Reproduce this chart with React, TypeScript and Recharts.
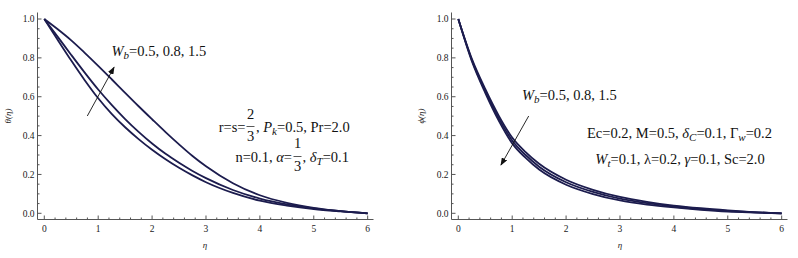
import React from 'react';
import { LineChart, Line, XAxis, YAxis } from 'recharts';

// ---------- data ----------
const etaTheta = [0, 0.25, 0.5, 0.75, 1, 1.25, 1.5, 1.75, 2, 2.25, 2.5, 2.75, 3, 3.5, 4, 4.5, 5, 5.5, 6];
const thetaWb05 = [1.0, 0.892, 0.786, 0.685, 0.592, 0.512, 0.443, 0.382, 0.327, 0.278, 0.234, 0.195, 0.16, 0.105, 0.065, 0.04, 0.022, 0.01, 0];
const thetaWb08 = [1.0, 0.908, 0.815, 0.724, 0.637, 0.558, 0.485, 0.419, 0.359, 0.306, 0.26, 0.218, 0.181, 0.12, 0.076, 0.046, 0.025, 0.011, 0];
const thetaWb15 = [1.0, 0.947, 0.89, 0.826, 0.759, 0.69, 0.62, 0.551, 0.484, 0.418, 0.355, 0.295, 0.242, 0.155, 0.093, 0.054, 0.028, 0.011, 0];

const etaPhi = [0, 0.25, 0.5, 0.75, 1, 1.25, 1.5, 2, 2.5, 3, 3.5, 4, 4.5, 5, 5.5, 6];
const phiWb05 = [1.0, 0.796, 0.64, 0.503, 0.39, 0.315, 0.255, 0.173, 0.121, 0.084, 0.059, 0.04, 0.026, 0.015, 0.006, 0];
const phiWb08 = [1.0, 0.79, 0.63, 0.49, 0.375, 0.3, 0.24, 0.16, 0.11, 0.075, 0.052, 0.035, 0.022, 0.012, 0.005, 0];
const phiWb15 = [1.0, 0.784, 0.62, 0.477, 0.36, 0.285, 0.225, 0.147, 0.099, 0.066, 0.045, 0.03, 0.018, 0.009, 0.004, 0];

const xMajorTicks = [0, 1, 2, 3, 4, 5, 6];
const xTickLabels = ['0', '1', '2', '3', '4', '5', '6'];
const yMajorTicks = [0, 0.2, 0.4, 0.6, 0.8, 1.0];
const yTickLabels = ['0.0', '0.2', '0.4', '0.6', '0.8', '1.0'];

const xAllTicks: number[] = [];
for (let i = 0; i <= 30; i++) xAllTicks.push(Math.round(i * 20) / 100);
const yAllTicks: number[] = [];
for (let i = 0; i <= 20; i++) yAllTicks.push(Math.round(i * 5) / 100);

const thetaData = etaTheta.map((eta, i) => ({ eta, a: thetaWb05[i], b: thetaWb08[i], c: thetaWb15[i] }));
const phiData = etaPhi.map((eta, i) => ({ eta, a: phiWb05[i], b: phiWb08[i], c: phiWb15[i] }));

// ---------- styles ----------
const FRAME = '#555';
const CURVE = '#1c1c4e';
const SERIF = '"Liberation Serif", "Times New Roman", serif';
const X_DOMAIN: [number, number] = [-0.126, 6.108];
const Y_DOMAIN: [number, number] = [-0.0319, 1.0335];
const FS = 14.5;
const SUB = 11;

const majorIdx = (v: number, majors: number[]) => majors.findIndex((m) => Math.abs(m - v) < 1e-6);

const BottomTick = (props: any) => {
  const { x, y, payload } = props;
  const idx = majorIdx(payload.value, xMajorTicks);
  const major = idx >= 0;
  return (
    <g>
      <line x1={x} x2={x} y1={y} y2={y - (major ? 4 : 2)} stroke={FRAME} strokeWidth={1} />
      {major && (
        <text x={x} y={y + 12} textAnchor="middle" fontSize={9.5} fontFamily={SERIF} fill="#1a1a1a">
          {xTickLabels[idx]}
        </text>
      )}
    </g>
  );
};

const TopTick = (props: any) => {
  const { x, y, payload } = props;
  const major = majorIdx(payload.value, xMajorTicks) >= 0;
  return <line x1={x} x2={x} y1={y} y2={y + (major ? 4 : 2)} stroke={FRAME} strokeWidth={1} />;
};

const LeftTick = (props: any) => {
  const { x, y, payload } = props;
  const idx = majorIdx(payload.value, yMajorTicks);
  const major = idx >= 0;
  return (
    <g>
      <line x1={x} x2={x + (major ? 4 : 2)} y1={y} y2={y} stroke={FRAME} strokeWidth={1} />
      {major && (
        <text x={x - 3} y={y + 3.2} textAnchor="end" fontSize={9.5} fontFamily={SERIF} fill="#1a1a1a">
          {yTickLabels[idx]}
        </text>
      )}
    </g>
  );
};

const RightTick = (props: any) => {
  const { x, y, payload } = props;
  const major = majorIdx(payload.value, yMajorTicks) >= 0;
  return <line x1={x} x2={x - (major ? 4 : 2)} y1={y} y2={y} stroke={FRAME} strokeWidth={1} />;
};

type PanelProps = { data: any[]; width: number; yAxisWidth: number; marginRight: number; left: number };

const Panel = ({ data, width, yAxisWidth, marginRight, left }: PanelProps) => (
  <div style={{ position: 'absolute', left, top: 0 }}>
    <LineChart width={width} height={258} data={data} margin={{ top: 12.5, right: marginRight, bottom: 0.5, left: 0 }}>
      <XAxis
        dataKey="eta"
        type="number"
        domain={X_DOMAIN}
        allowDataOverflow
        ticks={xAllTicks}
        interval={0}
        tickSize={0}
        tickMargin={0}
        tickLine={false}
        height={38}
        axisLine={{ stroke: FRAME, strokeWidth: 1 }}
        tick={BottomTick}
      />
      <XAxis
        xAxisId="top"
        orientation="top"
        dataKey="eta"
        type="number"
        domain={X_DOMAIN}
        allowDataOverflow
        ticks={xAllTicks}
        interval={0}
        tickSize={0}
        tickMargin={0}
        tickLine={false}
        height={0}
        axisLine={{ stroke: FRAME, strokeWidth: 1 }}
        tick={TopTick}
      />
      <YAxis
        type="number"
        domain={Y_DOMAIN}
        allowDataOverflow
        ticks={yAllTicks}
        interval={0}
        tickSize={0}
        tickMargin={0}
        tickLine={false}
        width={yAxisWidth}
        axisLine={{ stroke: FRAME, strokeWidth: 1 }}
        tick={LeftTick}
      />
      <YAxis
        yAxisId="right"
        orientation="right"
        type="number"
        domain={Y_DOMAIN}
        allowDataOverflow
        ticks={yAllTicks}
        interval={0}
        tickSize={0}
        tickMargin={0}
        tickLine={false}
        width={0}
        axisLine={{ stroke: FRAME, strokeWidth: 1 }}
        tick={RightTick}
      />
      <Line dataKey="a" type="monotone" stroke={CURVE} strokeWidth={1.8} dot={false} isAnimationActive={false} />
      <Line dataKey="b" type="monotone" stroke={CURVE} strokeWidth={1.8} dot={false} isAnimationActive={false} />
      <Line dataKey="c" type="monotone" stroke={CURVE} strokeWidth={1.8} dot={false} isAnimationActive={false} />
    </LineChart>
  </div>
);

const T = (p: any) => <text fontFamily={SERIF} fontSize={FS} fill="#111" {...p} />;

const Overlay = () => (
  <svg width={798} height={258} style={{ position: 'absolute', left: 0, top: 0, pointerEvents: 'none' }}>
    <defs>
      <marker id="ah" markerWidth="8" markerHeight="6" refX="7" refY="3" orient="auto" markerUnits="userSpaceOnUse">
        <path d="M0,0 L8,3 L0,6 z" fill="#111" />
      </marker>
    </defs>
    {/* axis titles */}
    <text x={0} y={0} transform="translate(11,116) rotate(-90)" textAnchor="middle" fontFamily={SERIF} fontSize={9} fontStyle="italic" fill="#222">
      θ(η)
    </text>
    <text x={0} y={0} transform="translate(424,116) rotate(-90)" textAnchor="middle" fontFamily={SERIF} fontSize={9} fontStyle="italic" fill="#222">
      ϕ(η)
    </text>
    <text x={205} y={248} textAnchor="middle" fontFamily={SERIF} fontSize={9} fontStyle="italic" fill="#222">η</text>
    <text x={620} y={248} textAnchor="middle" fontFamily={SERIF} fontSize={9} fontStyle="italic" fill="#222">η</text>

    {/* left panel annotations */}
    <T x={111.5} y={56}>
      <tspan fontStyle="italic">W</tspan>
      <tspan fontStyle="italic" fontSize={SUB} dy={3}>b</tspan>
      <tspan dy={-3}>=0.5, 0.8, 1.5</tspan>
    </T>
    <line x1={87.3} y1={116} x2={114} y2={67.3} stroke="#111" strokeWidth={0.9} markerEnd="url(#ah)" />

    <T x={245.5} y={131.5} textAnchor="end">r=s=</T>
    <T x={250.5} y={119} textAnchor="middle">2</T>
    <line x1={246.5} x2={254.5} y1={126.5} y2={126.5} stroke="#111" strokeWidth={0.7} />
    <T x={250.5} y={141} textAnchor="middle">3</T>
    <T x={256} y={131.5}>
      <tspan>, </tspan>
      <tspan fontStyle="italic">P</tspan>
      <tspan fontStyle="italic" fontSize={SUB} dy={3}>k</tspan>
      <tspan dy={-3}>=0.5, Pr=2.0</tspan>
    </T>

    <T x={292} y={161.5} textAnchor="end">
      <tspan>n=0.1, </tspan>
      <tspan fontStyle="italic">α</tspan>
      <tspan>=</tspan>
    </T>
    <T x={297.5} y={148} textAnchor="middle">1</T>
    <line x1={293.5} x2={301.5} y1={156.5} y2={156.5} stroke="#111" strokeWidth={0.7} />
    <T x={297.5} y={171} textAnchor="middle">3</T>
    <T x={302.5} y={161.5}>
      <tspan>, </tspan>
      <tspan fontStyle="italic">δ</tspan>
      <tspan fontStyle="italic" fontSize={SUB} dy={3}>T</tspan>
      <tspan dy={-3}>=0.1</tspan>
    </T>

    {/* right panel annotations */}
    <T x={522} y={99.5}>
      <tspan fontStyle="italic">W</tspan>
      <tspan fontStyle="italic" fontSize={SUB} dy={3}>b</tspan>
      <tspan dy={-3}>=0.5, 0.8, 1.5</tspan>
    </T>
    <line x1={528.7} y1={116} x2={501} y2={165} stroke="#111" strokeWidth={0.9} markerEnd="url(#ah)" />

    <T x={679.5} y={137.5} textAnchor="middle">
      <tspan>Ec=0.2, M=0.5, </tspan>
      <tspan fontStyle="italic">δ</tspan>
      <tspan fontStyle="italic" fontSize={SUB} dy={3}>C</tspan>
      <tspan dy={-3}>=0.1, Γ</tspan>
      <tspan fontStyle="italic" fontSize={SUB} dy={3}>w</tspan>
      <tspan dy={-3}>=0.2</tspan>
    </T>
    <T x={680} y={163.5} textAnchor="middle">
      <tspan fontStyle="italic">W</tspan>
      <tspan fontStyle="italic" fontSize={SUB} dy={3}>t</tspan>
      <tspan dy={-3}>=0.1, λ=0.2, </tspan>
      <tspan fontStyle="italic">γ</tspan>
      <tspan>=0.1, Sc=2.0</tspan>
    </T>
  </svg>
);

export default function App() {
  return (
    <div style={{ position: 'fixed', left: 0, top: 0, width: 798, height: 258, background: '#fff', overflow: 'hidden' }}>
      <Panel data={thetaData} width={400} yAxisWidth={37.5} marginRight={26.5} left={0} />
      <Panel data={phiData} width={398} yAxisWidth={51.5} marginRight={10.5} left={400} />
      <Overlay />
    </div>
  );
}
